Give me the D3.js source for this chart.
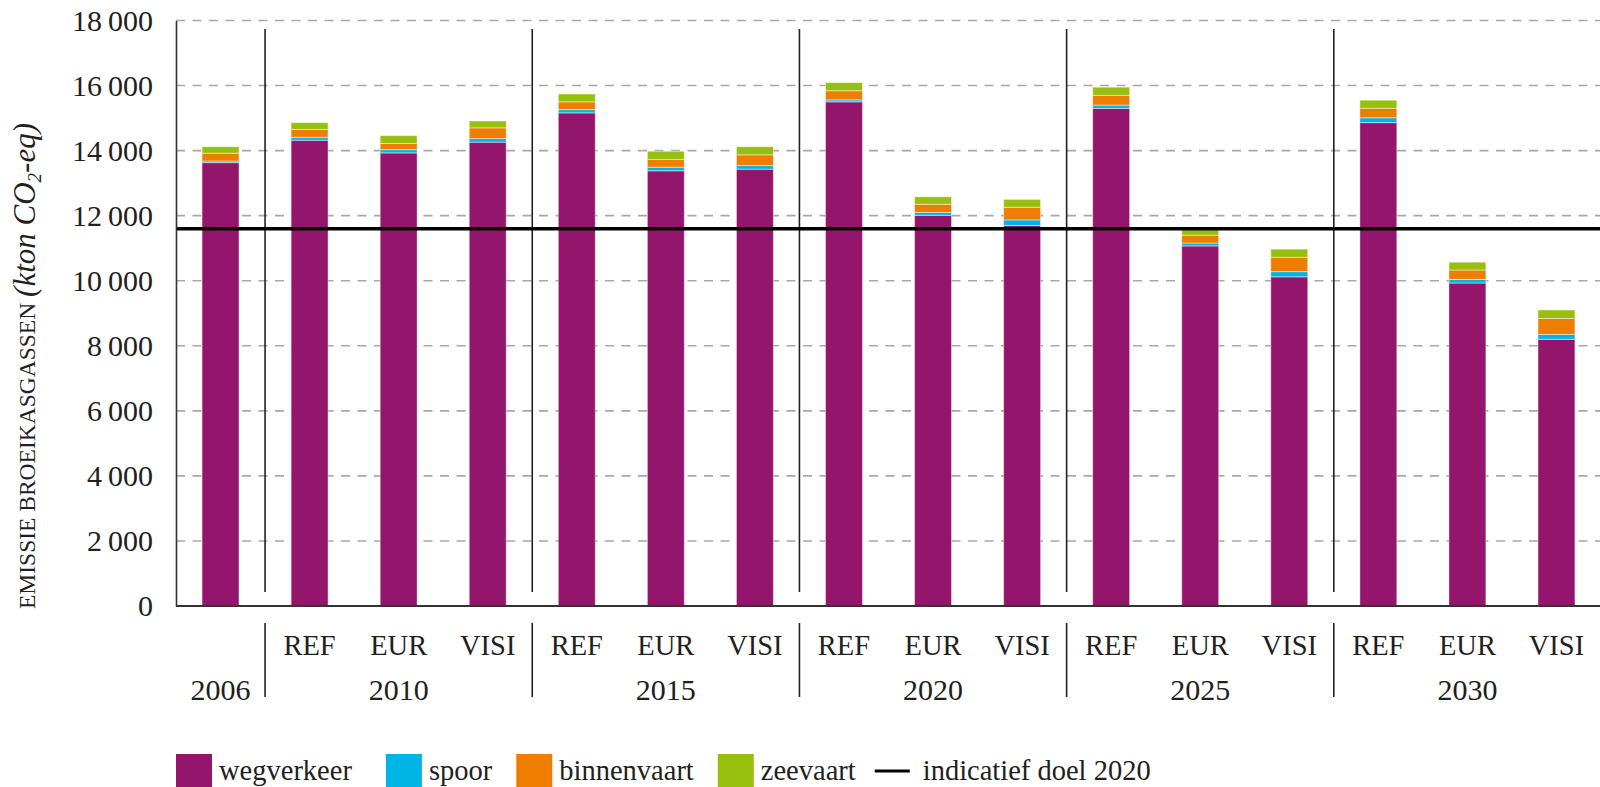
<!DOCTYPE html>
<html>
<head>
<meta charset="utf-8">
<script src="https://cdn.jsdelivr.net/npm/d3@7"></script>
<style>
  html, body { margin: 0; padding: 0; background: #fff; }
  svg { display: block; }
  text { font-family: "Liberation Serif", "DejaVu Serif", serif; fill: #231f20; }
</style>
</head>
<body>
<svg id="chart" width="1600" height="787"></svg>
<script>
// ---- data ----
const years = ["2006", "2010", "2015", "2020", "2025", "2030"];
const scenarios = ["REF", "EUR", "VISI"];
const categoryYears =     ["2006", "2010", "2010", "2010", "2015", "2015", "2015", "2020", "2020", "2020", "2025", "2025", "2025", "2030", "2030", "2030"];
const categoryScenarios = ["",     "REF",  "EUR",  "VISI", "REF",  "EUR",  "VISI", "REF",  "EUR",  "VISI", "REF",  "EUR",  "VISI", "REF",  "EUR",  "VISI"];
const wegverkeer  = [13630, 14320, 13930, 14260, 15160, 13380, 13430, 15500, 12010, 11700, 15300, 11070, 10120, 14860, 9930, 8200];
const spoor       = [50, 90, 100, 110, 100, 110, 110, 60, 90, 170, 100, 90, 160, 150, 110, 150];
const binnenvaart = [240, 240, 190, 330, 240, 240, 330, 280, 250, 390, 300, 240, 440, 290, 290, 490];
const zeevaart    = [200, 210, 240, 210, 240, 250, 250, 250, 230, 240, 250, 190, 250, 250, 240, 260];
const seriesNames = ["wegverkeer", "spoor", "binnenvaart", "zeevaart"];
const seriesColors = ["#93156c", "#00b4e6", "#ef7d00", "#97bf0d"];
const target = 11600;
const targetLabel = "indicatief doel 2020";
const yTicks = [0, 2000, 4000, 6000, 8000, 10000, 12000, 14000, 16000, 18000];

(function () {
// ---- build ----
const catIds = categoryYears.map((yr, i) => yr + "|" + categoryScenarios[i]);
const seriesData = [wegverkeer, spoor, binnenvaart, zeevaart];
const rows = catIds.map((id, i) => {
  const r = { id };
  seriesNames.forEach((s, k) => r[s] = seriesData[k][i]);
  return r;
});

const svg = d3.select("#chart");
const pLeft = 176, pRight = 1601, pTop = 20.5, pBottom = 606;

const x = d3.scaleBand().domain(catIds).range([pLeft, pRight]).paddingInner(0.585).paddingOuter(0.2925);
const y = d3.scaleLinear().domain([0, 18000]).range([pBottom, pTop]);
const color = d3.scaleOrdinal().domain(seriesNames).range(seriesColors);
const cx = id => x(id) + x.bandwidth() / 2;

// gridlines
svg.append("g").selectAll("line").data(yTicks.filter(t => t > 0)).join("line")
  .attr("x1", pLeft).attr("x2", 1600)
  .attr("y1", d => y(d)).attr("y2", d => y(d))
  .attr("stroke", "#a8a8a8").attr("stroke-width", 1.6)
  .attr("stroke-dasharray", "9,7.5");

// bars
const stack = d3.stack().keys(seriesNames)(rows);
svg.append("g").selectAll("g").data(stack).join("g")
  .attr("fill", d => color(d.key))
  .selectAll("rect").data(d => d).join("rect")
  .attr("x", d => x(d.data.id))
  .attr("width", x.bandwidth())
  .attr("y", d => y(d[1]))
  .attr("height", d => y(d[0]) - y(d[1]))
  .attr("stroke", "#ffffff").attr("stroke-opacity", 0.45).attr("stroke-width", 1);

// group separators
const sepIdx = [];
for (let i = 1; i < catIds.length; i++) if (categoryYears[i] !== categoryYears[i - 1]) sepIdx.push(i);
const sepX = sepIdx.map(i => (cx(catIds[i - 1]) + cx(catIds[i])) / 2);
svg.append("g").selectAll("line").data(sepX).join("line")
  .attr("x1", d => d).attr("x2", d => d)
  .attr("y1", 29).attr("y2", 592)
  .attr("stroke", "#222").attr("stroke-width", 1.6);
svg.append("g").selectAll("line").data(sepX).join("line")
  .attr("x1", d => d).attr("x2", d => d)
  .attr("y1", 623).attr("y2", 697)
  .attr("stroke", "#222").attr("stroke-width", 1.6);

// target line
svg.append("line")
  .attr("x1", pLeft).attr("x2", 1600)
  .attr("y1", y(target)).attr("y2", y(target))
  .attr("stroke", "#000").attr("stroke-width", 3.5);

// y axis
const fmt = d3.formatLocale({ decimal: ",", thousands: "\u2009", grouping: [3], currency: ["", ""] }).format(",");
const yAxis = svg.append("g").attr("transform", `translate(${pLeft},0)`)
  .call(d3.axisLeft(y).tickValues(yTicks).tickFormat(fmt).tickSize(0).tickSizeOuter(0).tickPadding(23));
yAxis.select(".domain").attr("stroke", "#333").attr("stroke-width", 1.6);
yAxis.selectAll("text").attr("font-family", "Liberation Serif").attr("font-size", 30).attr("fill", "#231f20");

// x axis baseline
svg.append("line").attr("x1", pLeft).attr("x2", 1600).attr("y1", pBottom).attr("y2", pBottom)
  .attr("stroke", "#333").attr("stroke-width", 2);

// scenario labels
svg.append("g").selectAll("text").data(catIds.filter((id, i) => categoryScenarios[i] !== "")).join("text")
  .attr("x", d => cx(d)).attr("y", 655)
  .attr("text-anchor", "middle").attr("font-size", 28.5)
  .text(d => d.split("|")[1]);

// year labels (centered on each group)
svg.append("g").selectAll("text").data(years).join("text")
  .attr("x", yr => {
    const ids = catIds.filter((id, i) => categoryYears[i] === yr);
    return (cx(ids[0]) + cx(ids[ids.length - 1])) / 2;
  })
  .attr("y", 700).attr("text-anchor", "middle").attr("font-size", 30)
  .text(d => d);

// y title
const title = svg.append("text")
  .attr("transform", "translate(35,609) rotate(-90)")
  .attr("text-anchor", "start");
title.append("tspan").attr("font-size", 23.5).text("EMISSIE BROEIKASGASSEN ");
title.append("tspan").attr("font-size", 31).attr("font-style", "italic").text("(kton CO");
title.append("tspan").attr("font-size", 19).attr("font-style", "italic").attr("dy", 6).text("2");
title.append("tspan").attr("font-size", 31).attr("font-style", "italic").attr("dy", -6).text("-eq)");

// legend
const lg = svg.append("g");
let cursor = 176;
const ly = 780;
const gaps = [34, 24, 24, 19];
seriesNames.forEach((s, k) => {
  lg.append("rect").attr("x", cursor).attr("y", 754).attr("width", 36).attr("height", 36)
    .attr("fill", color(s));
  const t = lg.append("text").attr("x", cursor + 43).attr("y", ly).attr("font-size", 28.5).text(s);
  cursor += 43 + t.node().getComputedTextLength() + gaps[k];
});
lg.append("line").attr("x1", cursor).attr("x2", cursor + 35).attr("y1", 771).attr("y2", 771)
  .attr("stroke", "#000").attr("stroke-width", 3);
lg.append("text").attr("x", cursor + 48).attr("y", ly).attr("font-size", 28.5).text(targetLabel);
})();
</script>
</body>
</html>
